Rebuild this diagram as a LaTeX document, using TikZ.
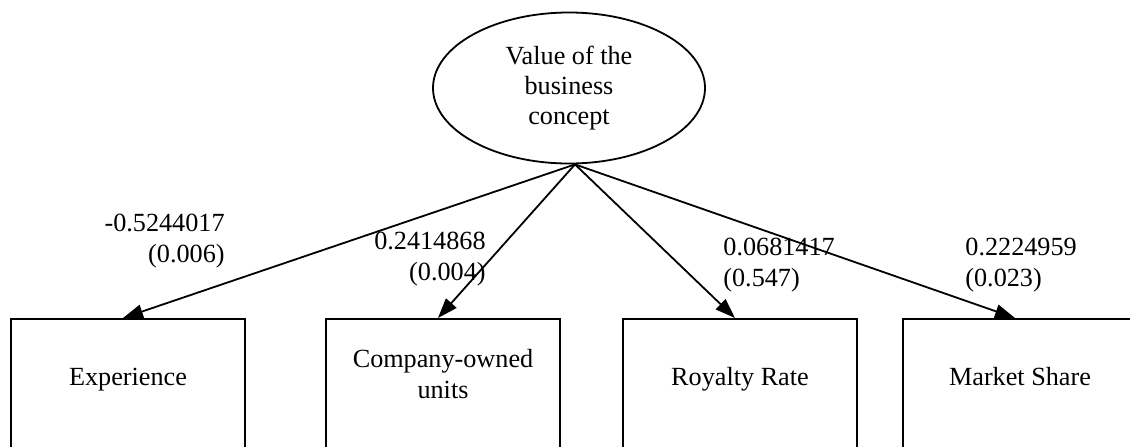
\documentclass[tikz,border=0pt]{standalone}
\usepackage{fontspec}
\setmainfont{Liberation Serif}
\usetikzlibrary{shapes.geometric,arrows.meta}
\begin{document}
\begin{tikzpicture}[x=0.5pt,y=-0.5pt,
  font=\fontsize{13.1}{15.2}\selectfont,
  latent/.style={draw,ellipse,line width=0.9pt,minimum width=136pt,minimum height=75.5pt,inner sep=0pt,align=center},
  obs/.style={draw,rectangle,line width=1pt,minimum width=117pt,minimum height=80pt,anchor=north,inner sep=0pt},
  obstext/.style={align=center,inner sep=0pt},
  coef/.style={inner sep=0pt},
  path/.style={line width=0.9pt,-{Triangle[length=10pt,width=7pt]}}]
\useasboundingbox (0,0) rectangle (1130,446);
\clip (0,0) rectangle (1130,446);
\node[latent] (val) at (569,88) {Value of the\\business\\concept};
\coordinate (apex) at ([xshift=3pt]val.south);
\node[obs] (exp) at (128,318) {};
\node[obs] (units) at (443,318) {};
\node[obs] (royalty) at (740,318) {};
\node[obs] (share) at (1020,318) {};
\node[obstext,anchor=base] (expt) at ([yshift=-33.5pt]exp.north) {Experience};
\node[obstext] (unitst) at ([yshift=-28pt]units.north) {Company-owned\\units};
\node[obstext,anchor=base] (royaltyt) at ([yshift=-33.5pt]royalty.north) {Royalty Rate};
\node[obstext,anchor=base] (sharet) at ([yshift=-33.5pt]share.north) {Market Share};
\draw[path] (apex) -- ([xshift=-2.5pt]exp.north);
\draw[path] (apex) -- ([xshift=-2.5pt]units.north);
\draw[path] (apex) -- ([xshift=-2.5pt]royalty.north);
\draw[path] (apex) -- ([xshift=-2.5pt]share.north);
\node[coef,anchor=east,align=right] (cexp) at (225,241) {-0.5244017\\(0.006)};
\node[coef,anchor=east,align=right] (cunits) at (486,259) {0.2414868\\(0.004)};
\node[coef,anchor=west,align=left] (croyalty) at (723,265) {0.0681417\\(0.547)};
\node[coef,anchor=west,align=left] (cshare) at (965,265) {0.2224959\\(0.023)};
\end{tikzpicture}
\end{document}
